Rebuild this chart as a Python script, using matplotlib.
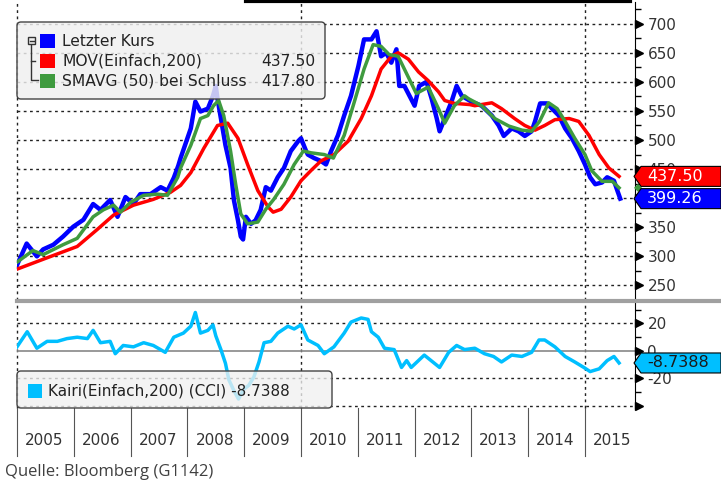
import matplotlib
matplotlib.use('Agg')
import matplotlib.pyplot as plt
from matplotlib.patches import FancyBboxPatch, Polygon, Rectangle
from matplotlib.lines import Line2D

W, H = 721, 484

# Letzter Kurs (CCI Index)
price_t = [2005.00, 2005.17, 2005.35, 2005.46, 2005.64, 2005.81, 2005.99, 2006.17, 2006.34, 2006.47,
           2006.64, 2006.77, 2006.91, 2007.05, 2007.17, 2007.35, 2007.53, 2007.65, 2007.76, 2007.84,
           2007.88, 2008.06, 2008.14, 2008.23, 2008.36, 2008.45, 2008.50, 2008.53, 2008.59, 2008.67,
           2008.76, 2008.82, 2008.89, 2008.94, 2008.98, 2009.03, 2009.12, 2009.20, 2009.29, 2009.38,
           2009.47, 2009.59, 2009.70, 2009.82, 2009.95, 2010.00, 2010.09, 2010.12, 2010.23, 2010.35,
           2010.44, 2010.53, 2010.65, 2010.76, 2010.88, 2011.01, 2011.11, 2011.24, 2011.33, 2011.41,
           2011.50, 2011.59, 2011.68, 2011.73, 2011.82, 2011.91, 2012.00, 2012.08, 2012.21, 2012.30,
           2012.39, 2012.44, 2012.53, 2012.65, 2012.74, 2012.83, 2013.00, 2013.18, 2013.36, 2013.48,
           2013.57, 2013.71, 2013.83, 2013.94, 2014.06, 2014.12, 2014.21, 2014.33, 2014.42, 2014.54,
           2014.65, 2014.77, 2014.89, 2015.00, 2015.09, 2015.18, 2015.30, 2015.39, 2015.51, 2015.57,
           2015.62]
price_v = [285, 322, 300, 312, 320, 334, 351, 363, 390, 380,
           397, 368, 402, 390, 407, 407, 419, 413, 435, 456,
           469, 520, 566, 549, 554, 576, 593, 571, 537, 491,
           452, 396, 362, 334, 329, 368, 356, 362, 380, 419,
           413, 436, 452, 481, 498, 503, 481, 475, 469, 464,
           458, 481, 508, 542, 576, 627, 673, 673, 687, 644,
           650, 633, 656, 593, 593, 576, 559, 593, 600, 571,
           537, 515, 537, 566, 593, 576, 566, 559, 542, 525,
           507, 520, 515, 507, 515, 532, 563, 563, 554, 542,
           520, 503, 481, 458, 436, 424, 427, 436, 430, 413,
           399.26]

# MOV(Einfach,200)
mov_t = [2005.00, 2005.46, 2006.06, 2006.41, 2006.70, 2007.05, 2007.40, 2007.70, 2007.88, 2008.06,
         2008.29, 2008.53, 2008.71, 2008.89, 2009.06, 2009.24, 2009.42, 2009.51, 2009.65, 2009.82,
         2010.00, 2010.18, 2010.35, 2010.58, 2010.83, 2011.06, 2011.24, 2011.41, 2011.59, 2011.71,
         2011.89, 2012.07, 2012.24, 2012.42, 2012.53, 2012.70, 2012.97, 2013.06, 2013.36, 2013.53,
         2013.76, 2013.94, 2014.12, 2014.29, 2014.47, 2014.72, 2014.89, 2015.07, 2015.25, 2015.42,
         2015.60]
mov_v = [278, 295, 317, 346, 371, 388, 398, 410, 422, 444,
         486, 525, 529, 503, 458, 413, 385, 376, 381, 402,
         430, 448, 464, 475, 498, 537, 576, 622, 644, 650,
         639, 617, 602, 583, 568, 563, 561, 559, 564, 554,
         537, 525, 517, 525, 535, 537, 532, 508, 475, 452,
         437.5]

# SMAVG (50) bei Schluss
sma_t = [2005.00, 2005.28, 2005.46, 2005.81, 2006.06, 2006.34, 2006.52, 2006.70, 2006.82, 2007.00,
         2007.23, 2007.47, 2007.65, 2007.83, 2007.88, 2008.06, 2008.23, 2008.36, 2008.46, 2008.55,
         2008.64, 2008.76, 2008.85, 2008.94, 2009.06, 2009.24, 2009.38, 2009.52, 2009.70, 2009.88,
         2010.04, 2010.18, 2010.41, 2010.57, 2010.76, 2010.94, 2011.11, 2011.27, 2011.41, 2011.55,
         2011.71, 2011.89, 2012.03, 2012.24, 2012.42, 2012.53, 2012.70, 2012.88, 2012.95, 2013.18,
         2013.41, 2013.66, 2013.89, 2014.06, 2014.20, 2014.36, 2014.51, 2014.65, 2014.82, 2015.00,
         2015.12, 2015.30, 2015.48, 2015.60]
sma_v = [290, 310, 303, 320, 331, 368, 380, 388, 376, 393,
         405, 407, 405, 436, 452, 491, 537, 542, 559, 568,
         542, 481, 424, 373, 356, 359, 381, 398, 424, 458,
         481, 478, 475, 469, 508, 566, 622, 664, 661, 647,
         644, 608, 580, 591, 554, 529, 559, 576, 571, 559,
         537, 524, 517, 515, 532, 564, 554, 532, 503, 475,
         447, 429, 429, 417.8]

# Kairi(Einfach,200) (CCI)
kairi_t = [2005.00, 2005.18, 2005.35, 2005.53, 2005.71, 2005.88, 2006.06, 2006.24, 2006.34, 2006.47,
           2006.64, 2006.73, 2006.87, 2007.05, 2007.23, 2007.40, 2007.61, 2007.76, 2007.93, 2008.06,
           2008.14, 2008.23, 2008.36, 2008.45, 2008.50, 2008.59, 2008.67, 2008.73, 2008.82, 2008.90,
           2008.99, 2009.08, 2009.17, 2009.26, 2009.35, 2009.47, 2009.59, 2009.77, 2009.88, 2010.00,
           2010.12, 2010.30, 2010.41, 2010.58, 2010.76, 2010.88, 2011.06, 2011.18, 2011.24, 2011.36,
           2011.47, 2011.64, 2011.77, 2011.86, 2011.94, 2012.17, 2012.44, 2012.60, 2012.74, 2012.88,
           2013.06, 2013.23, 2013.39, 2013.53, 2013.71, 2013.89, 2014.06, 2014.19, 2014.29, 2014.47,
           2014.65, 2014.82, 2014.98, 2015.09, 2015.25, 2015.39, 2015.51, 2015.60]
kairi_v = [3, 14, 2, 7, 7, 9, 10, 9, 15, 6,
           7, -2, 4, 3, 6, 4, -1, 10, 13, 18,
           28, 13, 15, 19, 11, 1, -9, -21, -29, -35,
           -28, -25, -19, -8, 6, 7, 13, 18, 16, 19,
           8, 4, -2, 3, 13, 21, 24, 23, 14, 10,
           2, 1, -12, -7, -12, -3, -12, -1, 4, 1,
           2, -2, -4, -8, -3, -4, -1, 8, 8, 3,
           -4, -8, -12, -15, -13, -7, -4, -8.7388]

years = [2005, 2006, 2007, 2008, 2009, 2010, 2011, 2012, 2013, 2014, 2015]
top_ticks = [250, 300, 350, 400, 450, 500, 550, 600, 650, 700]
top_labels = ['250', '300', '350', '', '450', '500', '550', '600', '650', '700']
bot_ticks = [20, 0, -20, -40]

fig = plt.figure(figsize=(W / 100, H / 100), dpi=100)


def box(x0, y0, x1, y1):
    return [x0 / W, 1 - y1 / H, (x1 - x0) / W, (y1 - y0) / H]


def ft(x, y, s, **kw):
    fig.text(x / W, 1 - y / H, s, **kw)


ax1 = fig.add_axes(box(17, 2, 635, 300))
ax2 = fig.add_axes(box(17, 303, 635, 408))
xmin, xmax = 2005.0, 2005 + 618 / 56.8
dots = (0, (2, 2.5))

for ax in (ax1, ax2):
    ax.set_xlim(xmin, xmax)
    for s in ('left', 'top', 'bottom'):
        ax.spines[s].set_visible(False)
    ax.spines['right'].set_color('black')
    ax.set_xticks([])
    ax.yaxis.tick_right()
    ax.tick_params(axis='y', which='major', length=0, pad=9, labelsize=11, labelcolor='#333333')
    ax.tick_params(axis='y', which='minor', length=4, width=1, color='black', direction='out')
    for yr in (2005, 2010, 2015):
        ax.axvline(yr, color='#222222', lw=1, ls=dots, zorder=0, clip_on=False)

# top panel
ax1.plot(price_t, price_v, color='#0000ff', lw=3.2)
ax1.plot(mov_t, mov_v, color='#ff0000', lw=2.5)
ax1.plot(sma_t, sma_v, color='#3f9b3f', lw=2.5)
ax1.set_ylim(232.2, 737.3)
ax1.set_yticks(top_ticks)
ax1.set_yticklabels(top_labels)
ax1.set_yticks([v + 25 for v in top_ticks] + [225], minor=True)
for v in top_ticks:
    ax1.axhline(v, color='#222222', lw=1, ls=dots, zorder=0)
ax1.plot([1.007] * len(top_ticks), top_ticks, ls='none', marker='>', ms=6, color='black',
         transform=ax1.get_yaxis_transform(), clip_on=False)

# bottom panel
ax2.plot(kairi_t, kairi_v, color='#00bfff', lw=2.5)
ax2.set_ylim(-41.5, 34.9)
ax2.set_yticks(bot_ticks)
ax2.set_yticklabels(['20', '0', '-20', ''])
ax2.set_yticks([30, 10, -10, -30], minor=True)
ax2.axhline(0, color='#888888', lw=1.2, zorder=0)
for v in (20, -20, -40):
    ax2.axhline(v, color='#222222', lw=1, ls=dots, zorder=0)
ax2.plot([1.007] * len(bot_ticks), bot_ticks, ls='none', marker='>', ms=6, color='black',
         transform=ax2.get_yaxis_transform(), clip_on=False)

# year axis
tr = ax2.get_xaxis_transform()
for yr in years:
    ax2.plot([yr, yr], [0, -0.46], color='#555555', lw=0.8, transform=tr, clip_on=False)
    ax2.text(yr + 0.48, -0.305, str(yr), transform=tr, ha='center', va='center',
             fontsize=11, color='#333333')

# separator between panels and top bar
fig.add_artist(Line2D([17, 721], [H - 301, H - 301], color='#a0a0a0', lw=3, transform=None))
fig.add_artist(Line2D([246, 630], [H - 1, H - 1], color='black', lw=3, transform=None))

# top legend
fig.add_artist(FancyBboxPatch((17, H - 99), 308, 77, boxstyle='round,pad=0,rounding_size=4',
                              fc=(0.94, 0.94, 0.94, 0.82), ec='#444444', lw=1, transform=None, zorder=10))
fig.add_artist(Line2D([31, 31, 38], [H - 43, H - 80, H - 80], color='#333333', lw=1, transform=None, zorder=11))
fig.add_artist(Line2D([31, 35], [H - 61, H - 61], color='#333333', lw=1, transform=None, zorder=11))
fig.add_artist(Rectangle((28, H - 44), 7, 7, fc='#f0f0f0', ec='#333333', lw=1, transform=None, zorder=11))
fig.add_artist(Line2D([29.5, 33.5], [H - 40.5, H - 40.5], color='#333333', lw=1, transform=None, zorder=12))
leg_items = [('#0000ff', 'Letzter Kurs', '', 41),
             ('#ff0000', 'MOV(Einfach,200)', '437.50', 61),
             ('#3f9b3f', 'SMAVG (50) bei Schluss', '417.80', 81)]
for col, lab, val, yy in leg_items:
    fig.add_artist(Rectangle((40, H - yy - 7), 15, 14, fc=col, ec='none', transform=None, zorder=11))
    ft(62, yy, lab, fontsize=11.2, color='#222222', va='center', zorder=12)
    if val:
        ft(315, yy, val, fontsize=11.2, color='#222222', va='center', ha='right', zorder=12)

# bottom legend
fig.add_artist(FancyBboxPatch((17, H - 408), 315, 37, boxstyle='round,pad=0,rounding_size=4',
                              fc=(0.94, 0.94, 0.94, 0.78), ec='#444444', lw=1, transform=None, zorder=10))
fig.add_artist(Rectangle((28, H - 398), 14, 14, fc='#00bfff', ec='none', transform=None, zorder=11))
ft(48, 391, 'Kairi(Einfach,200) (CCI) -8.7388', fontsize=11, color='#222222', va='center', zorder=12)


# value tags on the right
def tag(ax, value, fc, tc, text):
    yc = ax.transData.transform((xmin, value))[1]
    pts = [(634, yc), (641, yc + 10), (721, yc + 10), (721, yc - 10), (641, yc - 10)]
    fig.add_artist(Polygon(pts, closed=True, fc=fc, ec='black', lw=0.8, transform=None, zorder=13))
    fig.text(647 / W, yc / H, text, fontsize=11.5, color=tc, va='center', ha='left', zorder=14)


yg = ax1.transData.transform((xmin, sma_v[-1]))[1]
fig.add_artist(Polygon([(634, yg), (638, yg + 4), (642, yg), (638, yg - 4)], fc='#3f9b3f',
                       ec='none', transform=None, zorder=12))
tag(ax1, mov_v[-1], '#ff0000', 'white', '437.50')
tag(ax1, price_v[-1], '#0000ff', 'white', '399.26')
tag(ax2, kairi_v[-1], '#00bfff', '#1a1a1a', '-8.7388')

ft(5, 472, 'Quelle: Bloomberg (G1142)', fontsize=12, color='#404040', va='center',
   family='Open Sans')

fig.savefig('out.png', dpi=100)
